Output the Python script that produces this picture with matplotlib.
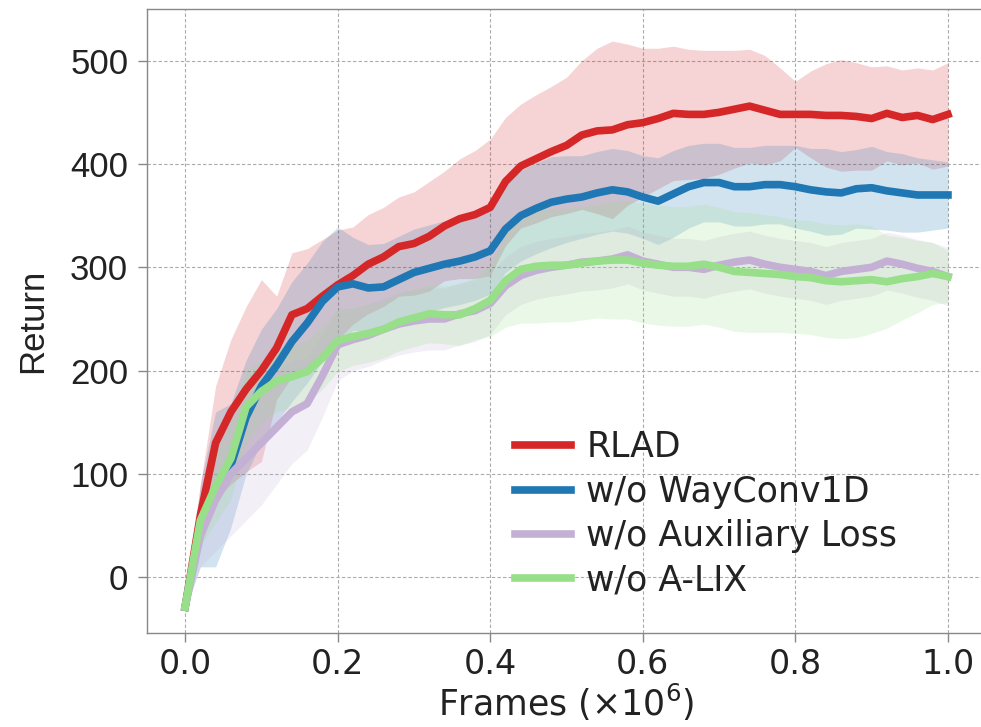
import numpy as np
import matplotlib
matplotlib.use("Agg")
import matplotlib.pyplot as plt

# frames (x 1e6), one point every 0.02
frames = np.round(np.arange(0, 1.0001, 0.02), 2)

rlad = [-29, 60, 130, 160, 182, 200, 222, 254, 260, 272,
        283, 292, 303, 310, 320, 323, 330, 340, 347, 351,
        358, 383, 398, 405, 412, 418, 428, 432, 433, 438,
        440, 444, 449, 448, 448, 450, 453, 456, 452, 448,
        448, 448, 447, 447, 446, 444, 449, 445, 447, 443, 448]
rlad_std = [3, 30, 55, 70, 80, 88, 50, 60, 58, 55,
            53, 47, 48, 48, 48, 50, 53, 53, 58, 62,
            66, 62, 60, 62, 63, 66, 72, 80, 86, 78,
            72, 68, 65, 63, 62, 60, 57, 55, 53, 45,
            32, 42, 50, 54, 52, 50, 46, 46, 46, 48, 50]

wayconv = [-29, 50, 85, 108, 155, 185, 205, 228, 246, 267,
           281, 284, 280, 281, 288, 295, 299, 303, 306, 310,
           316, 337, 350, 357, 363, 366, 368, 372, 375, 373,
           368, 364, 371, 378, 382, 382, 378, 378, 380, 380,
           378, 375, 373, 372, 376, 377, 374, 372, 370, 370, 370]
wayconv_std = [3, 40, 75, 60, 55, 55, 55, 58, 58, 58,
               58, 45, 42, 42, 42, 42, 42, 42, 42, 42,
               42, 42, 44, 44, 44, 42, 40, 40, 40, 40,
               40, 42, 42, 40, 38, 38, 38, 38, 38, 38,
               40, 40, 42, 40, 38, 40, 38, 38, 36, 34, 32]

aux = [-29, 40, 75, 100, 115, 130, 145, 160, 168, 195,
       225, 230, 234, 240, 245, 248, 250, 250, 255, 258,
       265, 282, 292, 297, 300, 302, 305, 306, 308, 312,
       306, 303, 300, 300, 298, 302, 305, 307, 303, 300,
       298, 296, 292, 296, 298, 300, 306, 303, 299, 296, 291]
aux_std = [3, 30, 50, 60, 60, 60, 55, 50, 45, 40,
           35, 30, 30, 30, 30, 30, 30, 30, 30, 30,
           30, 28, 28, 28, 28, 28, 28, 28, 28, 28,
           28, 28, 28, 28, 28, 28, 28, 28, 28, 28,
           28, 28, 28, 28, 28, 28, 28, 28, 28, 28, 28]

alix = [-29, 55, 88, 115, 165, 180, 190, 194, 199, 212,
        229, 233, 236, 240, 247, 251, 255, 254, 254, 260,
        268, 287, 298, 301, 302, 302, 304, 306, 307, 307,
        304, 302, 301, 301, 303, 300, 296, 295, 294, 293,
        291, 290, 287, 286, 287, 288, 286, 289, 291, 294, 291]
alix_std = [3, 25, 35, 40, 35, 30, 30, 30, 30, 30,
            30, 28, 28, 28, 28, 28, 28, 28, 30, 30,
            35, 45, 52, 55, 55, 55, 55, 55, 57, 57,
            58, 58, 58, 58, 58, 58, 58, 58, 57, 56,
            55, 55, 55, 55, 55, 52, 45, 40, 35, 30, 25]

series = [
    ("RLAD", rlad, rlad_std, "#d62728"),
    ("w/o WayConv1D", wayconv, wayconv_std, "#1f77b4"),
    ("w/o Auxiliary Loss", aux, aux_std, "#c5b0d5"),
    ("w/o A-LIX", alix, alix_std, "#98df8a"),
]

plt.rcParams["font.family"] = ["Liberation Sans", "DejaVu Sans"]
plt.rcParams["mathtext.fontset"] = "dejavusans"
dv = "DejaVu Sans"

fig = plt.figure(figsize=(9.81, 7.27), dpi=100)
ax = fig.add_axes([0.1498, 0.1293, 0.8554, 0.8583])

for name, mean, std, col in series:
    m = np.array(mean, dtype=float)
    s = np.array(std, dtype=float)
    ax.fill_between(frames, m - s, m + s, color=col, alpha=0.2, lw=0)
for name, mean, std, col in series:
    ax.plot(frames, mean, color=col, lw=5.5, label=name)

ax.set_xlim(-0.05, 1.05)
ax.set_ylim(-54, 550)
ax.set_xticks([0.0, 0.2, 0.4, 0.6, 0.8, 1.0])
ax.set_yticks([0, 100, 200, 300, 400, 500])
ax.grid(True, color="#aaaaaa", lw=0.8, dashes=(3, 2))
ax.set_axisbelow(True)

for sp in ax.spines.values():
    sp.set_color("#888888")
    sp.set_linewidth(1.0)
ax.tick_params(axis="both", colors="#888888", length=6.5, width=1.0, pad=4)
ax.tick_params(axis="y", labelsize=25, labelcolor="#222222", pad=7)
ax.tick_params(axis="x", labelsize=24, labelcolor="#222222")
for lab in ax.get_xticklabels():
    lab.set_family(dv)

ax.set_ylabel("Return", fontsize=25, color="#222222", labelpad=15)
ax.set_xlabel(r"Frames $(\times 10^6)$", fontsize=25, family=dv,
              color="#222222", labelpad=1)

leg = ax.legend(loc="center left", bbox_to_anchor=(0.525, 0.293),
                bbox_transform=fig.transFigure, frameon=False,
                borderpad=0, borderaxespad=0, handlelength=1.6,
                handletextpad=0.45, labelspacing=0.3,
                prop={"family": dv, "size": 25})
for t in leg.get_texts():
    t.set_color("#222222")

fig.savefig("out.png", dpi=100)
